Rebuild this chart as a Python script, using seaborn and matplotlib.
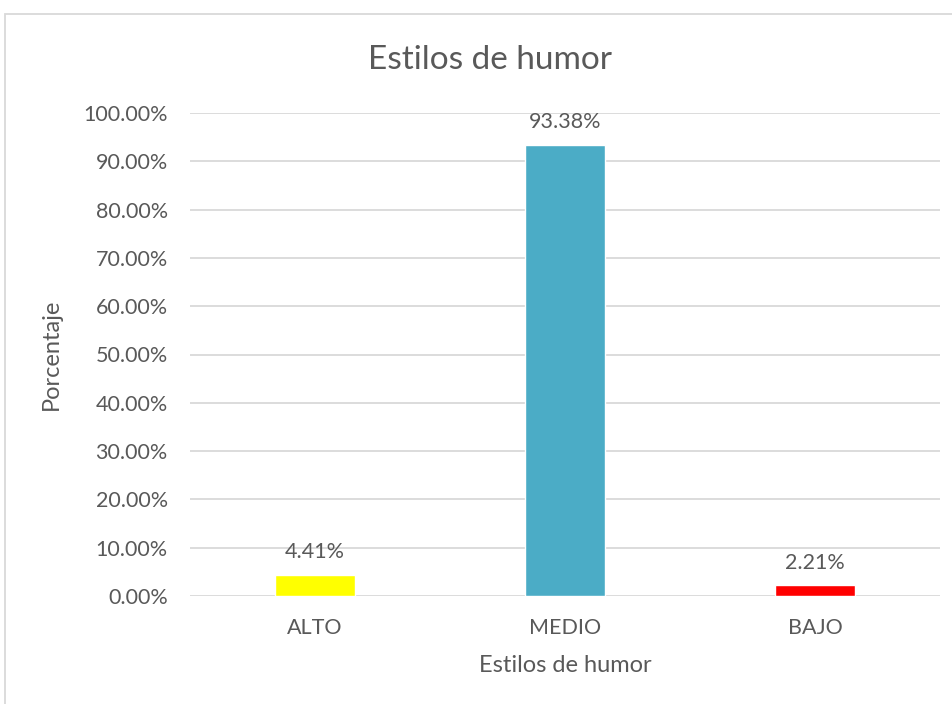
import matplotlib
matplotlib.use("Agg")
import matplotlib.pyplot as plt
from matplotlib.patches import Rectangle
from matplotlib.ticker import PercentFormatter
import pandas as pd
import seaborn as sns

# datos
estilos = ["ALTO", "MEDIO", "BAJO"]
porcentajes = [0.0441, 0.9338, 0.0221]
colores = ["#FFFF00", "#4BACC6", "#FF0000"]

df = pd.DataFrame({"estilo": estilos, "pct": porcentajes})

sns.set_style("white")
plt.rcParams["font.family"] = ["Lato", "DejaVu Sans"]
txt = "#595959"

fig = plt.figure(figsize=(9.52, 7.04), dpi=100)
ax = fig.add_axes([190 / 952, 1 - 596 / 704, 750 / 952, (596 - 113) / 704])

sns.barplot(data=df, x="estilo", y="pct", hue="estilo", palette=colores,
            width=0.32, legend=False, ax=ax, saturation=1)

ax.set_ylim(0, 1)
ax.set_yticks([i / 10 for i in range(11)])
ax.yaxis.set_major_formatter(PercentFormatter(xmax=1, decimals=2))
ax.grid(axis="y", color="#D9D9D9", linewidth=1.3)
ax.set_axisbelow(True)
for s in ax.spines.values():
    s.set_visible(False)
ax.tick_params(axis="both", length=0, labelsize=15.5, colors=txt)
ax.tick_params(axis="y", pad=16)
ax.tick_params(axis="x", pad=16)

for i, v in enumerate(porcentajes):
    ax.annotate(f"{v*100:.2f}%", (i, v), xytext=(0, 9), textcoords="offset points",
                ha="center", va="bottom", fontsize=15.5, color=txt)

fig.text(490 / 952, 1 - 60 / 704, "Estilos de humor", fontsize=24, color=txt,
         ha="center", va="center")
ax.set_xlabel("Estilos de humor", fontsize=17, color=txt, labelpad=12)
ax.set_ylabel("Porcentaje", fontsize=17, color=txt)
ax.yaxis.set_label_coords((62 - 190) / 750, 0.5)

# borde del area del grafico
fig.patches.append(Rectangle((5 / 952, -0.1), 1.2, 1.1 - 14 / 704, transform=fig.transFigure,
                             fill=False, edgecolor="#D9D9D9", linewidth=1.3))

fig.savefig("out.png", dpi=100)
